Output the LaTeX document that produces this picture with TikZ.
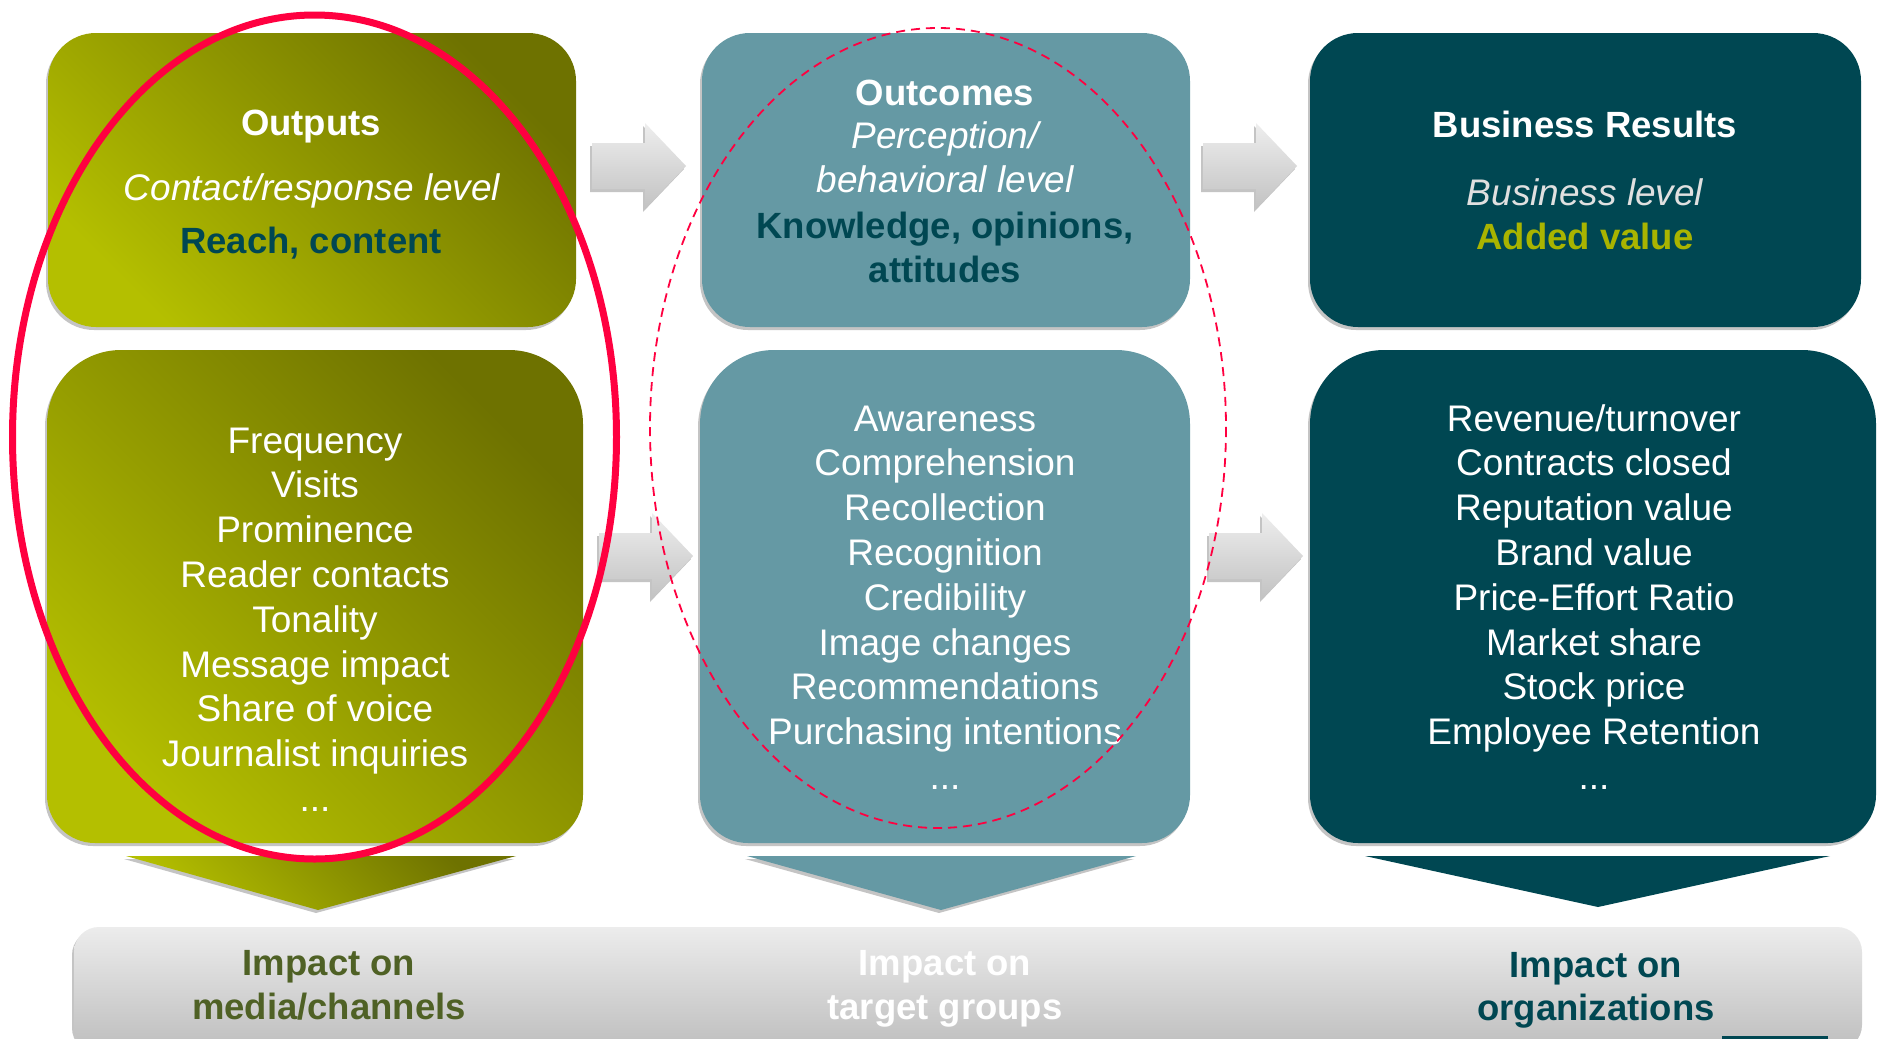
\documentclass[tikz,border=0pt]{standalone}
\usepackage{fontspec}
\setmainfont{Liberation Sans}
\newcommand{\moredots}{...}
\begin{document}
\begin{tikzpicture}[x=1pt,y=-1pt]
\definecolor{olivelt}{HTML}{B4BF00}
\definecolor{olivedk}{HTML}{6E7200}
\definecolor{tealmid}{HTML}{6599A4}
\definecolor{tealdk}{HTML}{004752}
\definecolor{shadowgray}{HTML}{C4C4C4}
\definecolor{loopred}{HTML}{FF0040}
\definecolor{darkolive}{HTML}{4F6125}
\definecolor{addedval}{HTML}{A9B400}
\definecolor{barlt}{HTML}{ECECEC}
\definecolor{bardk}{HTML}{BEBEBE}
\definecolor{arrlt}{HTML}{EEEEEE}
\definecolor{arrdk}{HTML}{C2C2C2}
\tikzset{
  olivefill/.style={left color=olivedk, right color=olivelt, shading angle=-45},
  shadowfill/.style={fill=shadowgray},
  listtxt/.style={text=white, font=\fontsize{37}{44.8}\selectfont, anchor=base, inner sep=0pt},
  headtxt/.style={font=\bfseries\fontsize{36.5}{44}\selectfont, anchor=base, inner sep=0pt},
  italtxt/.style={font=\itshape\fontsize{37}{44}\selectfont, anchor=base, inner sep=0pt},
  grayarrow/.style={top color=arrlt, bottom color=arrdk},
}
% box outline: left, top, right, bottom, radius of top corners, radius of bottom corners
\newcommand{\boxpath}[6]{(#1,{(#2+#4)/2}) [rounded corners=#5pt] -- (#1,#2) -- (#3,#2) -- (#3,{(#2+#4)/2}) [rounded corners=#6pt] -- (#3,#4) -- (#1,#4) -- cycle}
% block arrow pointing right, tail at (#1,#2)
\newcommand{\arrowpath}[2]{(#1,#2-23) -- (#1+53,#2-23) -- (#1+53,#2-43) -- (#1+94,#2) -- (#1+53,#2+43) -- (#1+53,#2+23) -- (#1,#2+23) -- cycle}
\newcommand{\downpath}[4]{(#1,856) -- (#2,856) -- (#3,#4) -- cycle}

\useasboundingbox (0,0) rectangle (1883,1039);
\fill[white] (0,0) rectangle (1883,1039);

% shadows
\begin{scope}[shift={(-2,3)}]
  \fill[shadowfill] \boxpath{48}{33}{576}{327}{48}{48};
  \fill[shadowfill] \boxpath{47}{350}{583}{843}{74}{48};
  \fill[shadowfill] \boxpath{702}{33}{1190}{327}{48}{48};
  \fill[shadowfill] \boxpath{700}{350}{1190}{843}{74}{48};
  \fill[shadowfill] \boxpath{1310}{33}{1861}{327}{48}{48};
  \fill[shadowfill] \boxpath{1310}{350}{1876}{843}{74}{48};
  \fill[shadowfill] \downpath{126}{516}{318}{910};
  \fill[shadowfill] \downpath{747}{1136}{941}{910};
  \fill[shadowfill, rounded corners=25pt] (74,927) rectangle (1862,1050);
  \fill[shadowfill] \arrowpath{592}{166};
  \fill[shadowfill] \arrowpath{1203}{166};
  \fill[shadowfill] \arrowpath{599}{556};
  \fill[shadowfill] \arrowpath{1209}{556};
\end{scope}

% column boxes
\shade[olivefill] \boxpath{48}{33}{576}{327}{48}{48};
\shade[olivefill] \boxpath{47}{350}{583}{843}{74}{48};
\fill[tealmid] \boxpath{702}{33}{1190}{327}{48}{48};
\fill[tealmid] \boxpath{700}{350}{1190}{843}{74}{48};
\fill[tealdk] \boxpath{1310}{33}{1861}{327}{48}{48};
\fill[tealdk] \boxpath{1310}{350}{1876}{843}{74}{48};

% flow arrows between columns
\shade[grayarrow] \arrowpath{592}{166};
\shade[grayarrow] \arrowpath{1203}{166};
\shade[grayarrow] \arrowpath{599}{556};
\shade[grayarrow] \arrowpath{1209}{556};

% downward arrows
\shade[olivefill] \downpath{126}{516}{318}{910};
\fill[tealmid] \downpath{747}{1136}{941}{910};
\fill[tealdk] \downpath{1365}{1830}{1598}{907};

% impact bar
\shade[top color=barlt, bottom color=bardk, rounded corners=25pt] (74,927) rectangle (1862,1050);
\fill[tealdk] (1722,1036) rectangle (1828,1039);

% headers
\node[headtxt, text=white] (outputs) at (311,135) {Outputs};
\node[italtxt, text=white] (contact) at (312,200) {Contact/response level};
\node[headtxt, text=tealdk] (reach) at (311,253) {Reach, content};

\node[headtxt, text=white] (outcomes) at (945,105) {Outcomes};
\node[italtxt, text=white] (percep) at (945,148) {Perception/};
\node[italtxt, text=white] (behav) at (945,192) {behavioral level};
\node[headtxt, text=tealdk] (knowl) at (945,238) {Knowledge, opinions,};
\node[headtxt, text=tealdk] (attit) at (945,282) {attitudes};

\node[headtxt, text=white] (busres) at (1585,137) {Business Results};
\node[italtxt, text=white!88!black] (buslev) at (1585,205) {Business level};
\node[headtxt, text=addedval] (added) at (1585,249) {Added value};

% metric lists
\foreach \t [count=\i from 0] in {Frequency,Visits,Prominence,Reader contacts,Tonality,Message impact,Share of voice,Journalist inquiries,\moredots}
  \node[listtxt] (outitem\i) at (315,{453+44.8*\i}) {\t};
\foreach \t [count=\i from 0] in {Awareness,Comprehension,Recollection,Recognition,Credibility,Image changes,Recommendations,Purchasing intentions,\moredots}
  \node[listtxt] (outcitem\i) at (945,{431+44.8*\i}) {\t};
\foreach \t [count=\i from 0] in {Revenue/turnover,Contracts closed,Reputation value,Brand value,Price-Effort Ratio,Market share,Stock price,Employee Retention,\moredots}
  \node[listtxt] (busitem\i) at (1594,{431+44.8*\i}) {\t};

% impact labels
\node[headtxt, text=darkolive] (imp1a) at (329,975) {Impact on};
\node[headtxt, text=darkolive] (imp1b) at (329,1019) {media/channels};
\node[headtxt, text=white] (imp2a) at (945,975) {Impact on};
\node[headtxt, text=white] (imp2b) at (945,1019) {target groups};
\node[headtxt, text=tealdk] (imp3a) at (1596,977) {Impact on};
\node[headtxt, text=tealdk] (imp3b) at (1596,1020) {organizations};

% highlight ellipses
\draw[loopred, line width=7pt] (314.5,437) ellipse [x radius=302, y radius=422];
\draw[loopred, line width=1.8pt, dash pattern=on 9pt off 6pt] (938,428) ellipse [x radius=288, y radius=400];
\end{tikzpicture}
\end{document}
